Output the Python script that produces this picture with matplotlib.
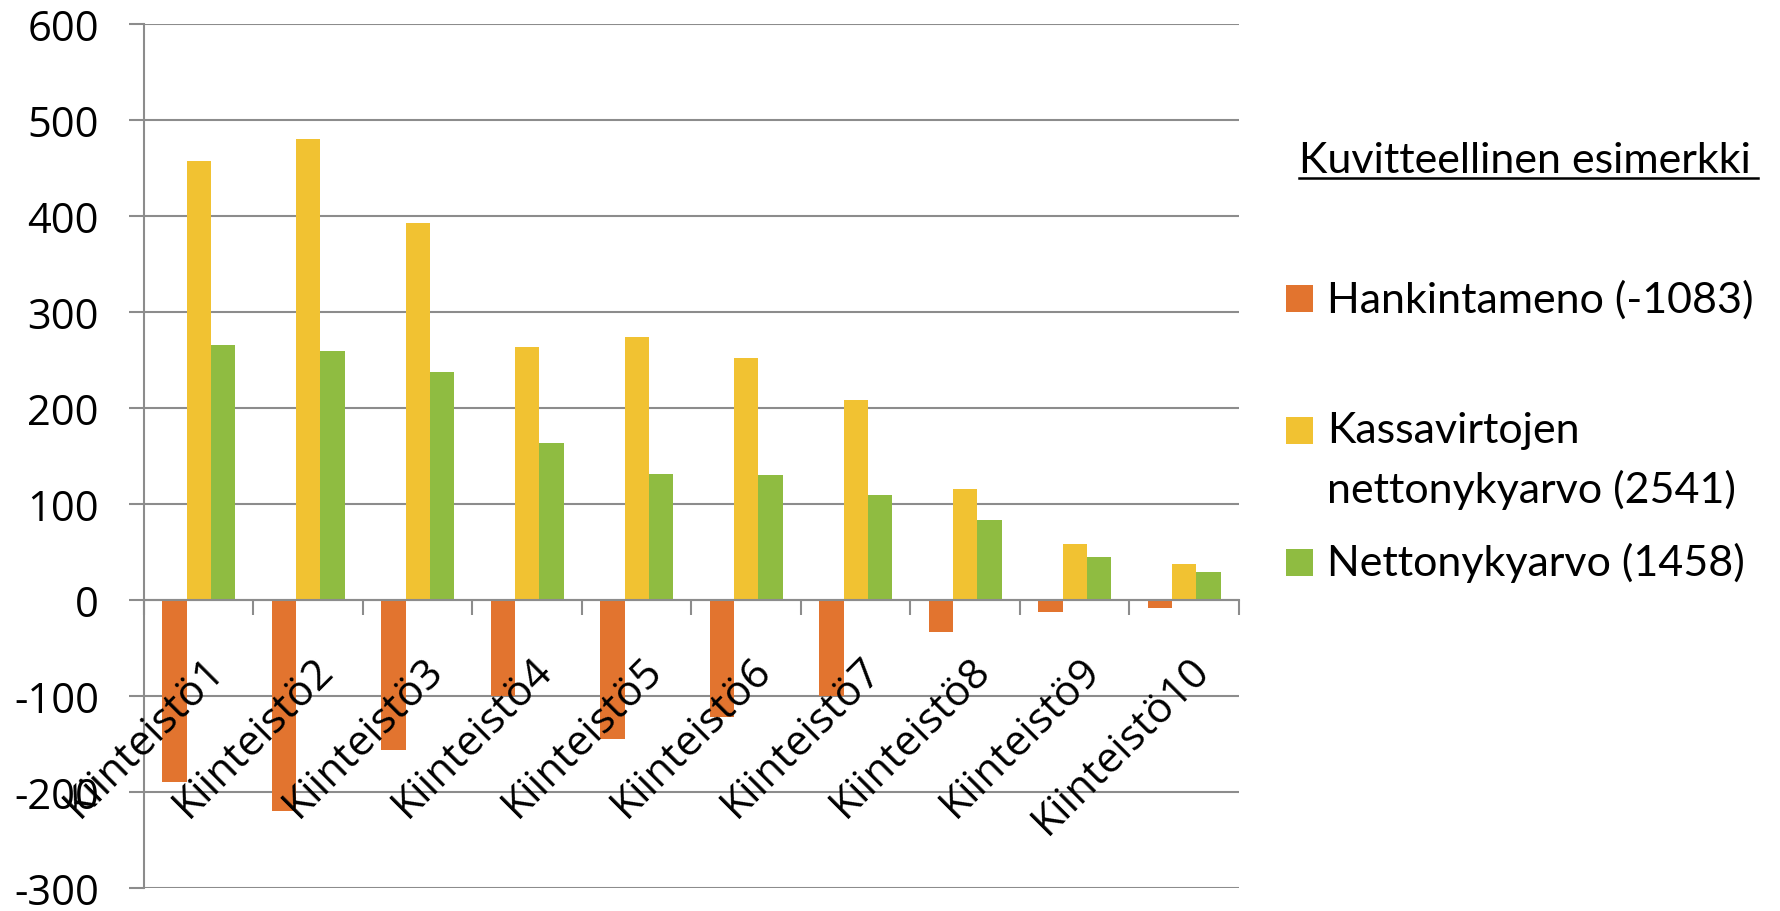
import numpy as np
import matplotlib.pyplot as plt
from matplotlib.lines import Line2D
from matplotlib.patches import Rectangle

# data
categories = ["Kiinteistö%d" % i for i in range(1, 11)]
hankintameno = [-190, -220, -156, -100, -145, -122, -100, -33, -12, -8]
kassavirrat = [457, 480, 393, 264, 274, 252, 208, 116, 58, 37]
nettonykyarvo = [266, 259, 237, 164, 131, 130, 109, 83, 45, 29]

series_labels = ["Hankintameno (-1083)", "Kassavirtojen\nnettonykyarvo (2541)", "Nettonykyarvo (1458)"]
legend_title = "Kuvitteellinen esimerkki"
colors = ["#E2742F", "#F1C232", "#8FBC41"]
y_ticks = [-300, -200, -100, 0, 100, 200, 300, 400, 500, 600]

W, H = 1781, 912
fig = plt.figure(figsize=(W / 100, H / 100), dpi=100)
ax = fig.add_axes([144 / W, 23 / H, 1095 / W, 864 / H])

x = np.arange(len(categories))
bw = 1 / 4.5
for k, vals in enumerate([hankintameno, kassavirrat, nettonykyarvo]):
    ax.bar(x + (k - 1) * bw, vals, width=bw, color=colors[k], edgecolor="none", zorder=3)

grid_col = "#8C8C8C"
axis_font = "Open Sans"
ax.set_xlim(-0.5, len(categories) - 0.5)
ax.set_ylim(-300, 600)
ax.set_yticks(y_ticks)
ax.set_yticklabels([str(t) for t in y_ticks], fontsize=30, family=axis_font)
ax.yaxis.grid(True, color=grid_col, linewidth=1.5, zorder=0)
ax.tick_params(axis="y", length=10.8, width=1.5, color=grid_col, pad=21.6)

for s in ["top", "right"]:
    ax.spines[s].set_visible(False)
ax.spines["left"].set_color(grid_col)
ax.spines["left"].set_linewidth(1.5)
ax.spines["bottom"].set_position(("data", 0))
ax.spines["bottom"].set_color(grid_col)
ax.spines["bottom"].set_linewidth(1.5)
ax.spines["bottom"].set_zorder(4)

ax.set_xticks(np.arange(len(categories) + 1) - 0.5)
ax.set_xticklabels([])
ax.tick_params(axis="x", length=10.8, width=1.5, color=grid_col, direction="out")

# rotated category labels hanging below the zero line
for i, name in enumerate(categories):
    ax.annotate(name, xy=(i, 0), xytext=(4, -48), textcoords="offset pixels",
                rotation=45, ha="right", va="top", rotation_mode="anchor",
                fontsize=30.5, family=axis_font, zorder=5)

# legend on the right
lf = "Lato"
fs = 31
fig.text(1299 / W, 1 - 173 / H, legend_title, fontsize=fs, family=lf, va="baseline")
fig.add_artist(Line2D([1299 / W, 1758 / W], [1 - 179 / H, 1 - 179 / H], color="black", lw=1.8))
rows = [(286, 300), (418, 431), (550, 563)]
for (sq_top, ty), lab, c in zip(rows, series_labels, colors):
    fig.add_artist(Rectangle((1286 / W, 1 - (sq_top + 27) / H), 27 / W, 27 / H,
                             facecolor=c, edgecolor="none", transform=fig.transFigure))
    for j, line in enumerate(lab.split("\n")):
        fig.text(1327 / W, 1 - (ty + 59 * j) / H, line, fontsize=fs, family=lf, va="center")

fig.savefig("out.png", dpi=100)
